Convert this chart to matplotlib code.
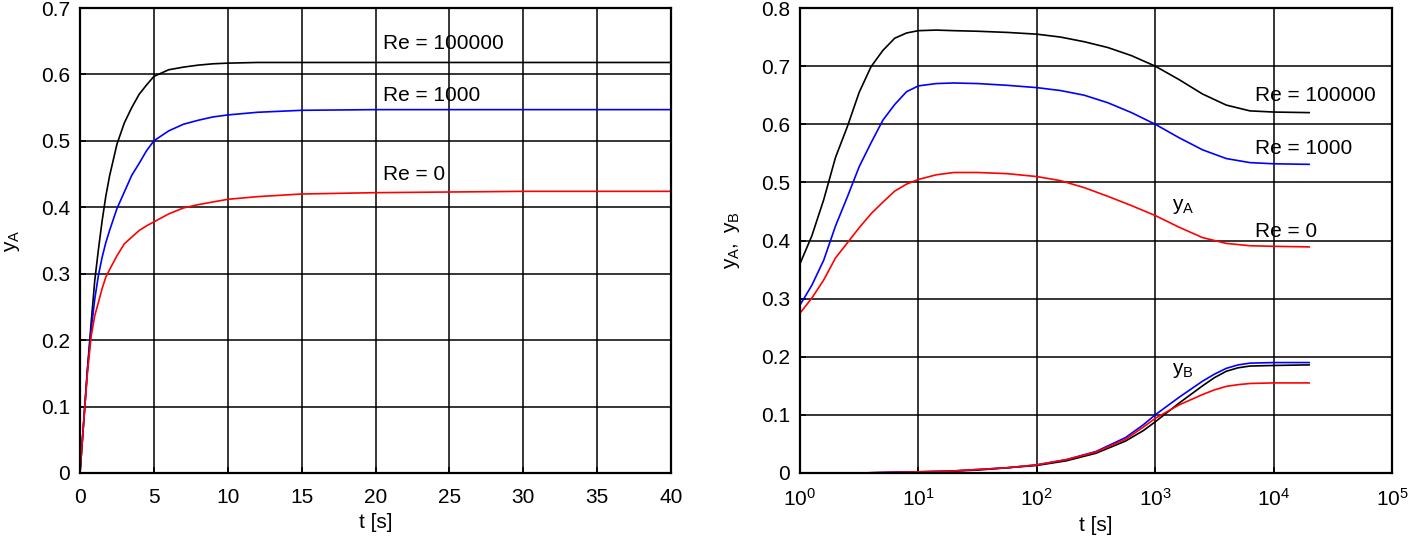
import matplotlib
matplotlib.use("Agg")
import matplotlib.pyplot as plt
import numpy as np
from matplotlib.ticker import FuncFormatter, LogLocator, NullLocator

plt.rcParams['font.family'] = ['Liberation Sans', 'DejaVu Sans']
plt.rcParams['mathtext.fontset'] = 'custom'
plt.rcParams['mathtext.rm'] = 'Liberation Sans'
plt.rcParams['mathtext.it'] = 'Liberation Sans'
plt.rcParams['font.size'] = 15

# left panel: y_A vs t (linear)
t_lin = [0, 0.25, 0.5, 0.75, 1, 1.25, 1.5, 1.75, 2, 2.5, 3, 3.5, 4, 4.5, 5, 6, 7, 8, 9, 10, 12, 15, 20, 25, 30, 40]
yA_re1e5 = [0, 0.077, 0.155, 0.225, 0.29, 0.337, 0.38, 0.417, 0.447, 0.495, 0.527, 0.55, 0.57, 0.584, 0.597, 0.607, 0.611, 0.614, 0.616, 0.617, 0.618, 0.618, 0.618, 0.618, 0.618, 0.618]
yA_re1e3 = [0, 0.077, 0.155, 0.215, 0.262, 0.298, 0.325, 0.347, 0.365, 0.398, 0.423, 0.448, 0.466, 0.485, 0.5, 0.515, 0.525, 0.531, 0.536, 0.539, 0.543, 0.546, 0.547, 0.547, 0.547, 0.547]
yA_re0 = [0, 0.077, 0.15, 0.205, 0.237, 0.257, 0.278, 0.295, 0.306, 0.327, 0.345, 0.355, 0.365, 0.372, 0.378, 0.39, 0.399, 0.404, 0.408, 0.412, 0.416, 0.42, 0.422, 0.423, 0.424, 0.424]

# right panel: y_A vs log10(t)
logt_A = [0, 0.1, 0.2, 0.3, 0.4, 0.5, 0.6, 0.7, 0.8, 0.9, 1.0, 1.15, 1.3, 1.5, 1.75, 2.0, 2.2, 2.4, 2.6, 2.8, 3.0, 3.2, 3.4, 3.6, 3.8, 4.0, 4.3]
yA2_re1e5 = [0.36, 0.408, 0.47, 0.543, 0.596, 0.655, 0.699, 0.727, 0.748, 0.757, 0.761, 0.762, 0.761, 0.76, 0.758, 0.755, 0.75, 0.742, 0.732, 0.718, 0.7, 0.677, 0.652, 0.633, 0.623, 0.621, 0.62]
yA2_re1e3 = [0.289, 0.323, 0.366, 0.425, 0.475, 0.527, 0.568, 0.607, 0.634, 0.656, 0.666, 0.67, 0.671, 0.67, 0.667, 0.663, 0.658, 0.65, 0.637, 0.62, 0.6, 0.577, 0.556, 0.541, 0.534, 0.532, 0.531]
yA2_re0 = [0.275, 0.301, 0.332, 0.37, 0.396, 0.422, 0.446, 0.466, 0.485, 0.497, 0.505, 0.513, 0.517, 0.517, 0.515, 0.51, 0.503, 0.491, 0.476, 0.46, 0.443, 0.423, 0.405, 0.395, 0.391, 0.39, 0.389]

# right panel: y_B vs log10(t)
logt_B = [0, 0.5, 1.0, 1.25, 1.5, 1.75, 2.0, 2.25, 2.5, 2.75, 2.9, 3.0, 3.2, 3.4, 3.5, 3.6, 3.7, 3.8, 4.0, 4.3]
yB_re1e5 = [0, 0, 0.002, 0.003, 0.005, 0.009, 0.013, 0.021, 0.034, 0.055, 0.073, 0.088, 0.12, 0.15, 0.164, 0.175, 0.181, 0.184, 0.185, 0.186]
yB_re1e3 = [0, 0, 0.002, 0.003, 0.006, 0.009, 0.014, 0.023, 0.037, 0.061, 0.083, 0.1, 0.13, 0.158, 0.17, 0.18, 0.186, 0.189, 0.19, 0.19]
yB_re0 = [0, 0, 0.002, 0.003, 0.006, 0.009, 0.014, 0.023, 0.036, 0.058, 0.079, 0.094, 0.117, 0.135, 0.143, 0.149, 0.152, 0.154, 0.155, 0.155]

colors = ['black', 'blue', 'red']
labels = ['Re = 100000', 'Re = 1000', 'Re = 0']

fig = plt.figure(figsize=(14.09, 5.39), dpi=100)
ax1 = fig.add_axes([80/1409, 1-473/539, 591/1409, 465/539])
ax2 = fig.add_axes([800/1409, 1-473/539, 592/1409, 465/539])

fmt = FuncFormatter(lambda v, p: '%g' % round(v, 3))

# left
for y, c in zip([yA_re1e5, yA_re1e3, yA_re0], colors):
    ax1.plot(t_lin, y, color=c, lw=1.2)
ax1.set_xlim(0, 40)
ax1.set_ylim(0, 0.7)
ax1.set_xticks(np.arange(0, 41, 5))
ax1.set_yticks(np.arange(0, 0.71, 0.1))
ax1.yaxis.set_major_formatter(fmt)
ax1.set_xlabel('t [s]', labelpad=4)
ax1.set_ylabel(r'$\mathregular{y_A}$', labelpad=14)
ax1.text(20.5, 0.646, labels[0], va='center')
ax1.text(20.5, 0.569, labels[1], va='center')
ax1.text(20.5, 0.450, labels[2], va='center')

# right
for y, c in zip([yA2_re1e5, yA2_re1e3, yA2_re0], colors):
    ax2.plot(10 ** np.array(logt_A), y, color=c, lw=1.2)
for y, c in zip([yB_re1e5, yB_re1e3, yB_re0], colors):
    ax2.plot(10 ** np.array(logt_B), y, color=c, lw=1.2)
ax2.set_xscale('log')
ax2.set_xlim(1, 1e5)
ax2.set_ylim(0, 0.8)
ax2.xaxis.set_major_locator(LogLocator(base=10, numticks=10))
ax2.xaxis.set_minor_locator(NullLocator())
ax2.set_yticks(np.arange(0, 0.81, 0.1))
ax2.yaxis.set_major_formatter(fmt)
ax2.set_xlabel('t [s]', labelpad=4)
ax2.set_ylabel(r'$\mathregular{y_A,\ y_B}$', labelpad=14)
ax2.text(6970, 0.650, labels[0], va='center')
ax2.text(6970, 0.559, labels[1], va='center')
ax2.text(6970, 0.415, labels[2], va='center')
ax2.text(1380, 0.458, r'$\mathregular{y_A}$', va='center')
ax2.text(1380, 0.177, r'$\mathregular{y_B}$', va='center')

for ax in (ax1, ax2):
    ax.grid(True, color='black', lw=1.1)
    ax.tick_params(direction='in', length=4, width=1.2)
    ax.tick_params(axis='x', pad=11)
    ax.tick_params(axis='y', pad=7)
    for s in ax.spines.values():
        s.set_linewidth(1.6)

fig.savefig('out.png', dpi=100)
